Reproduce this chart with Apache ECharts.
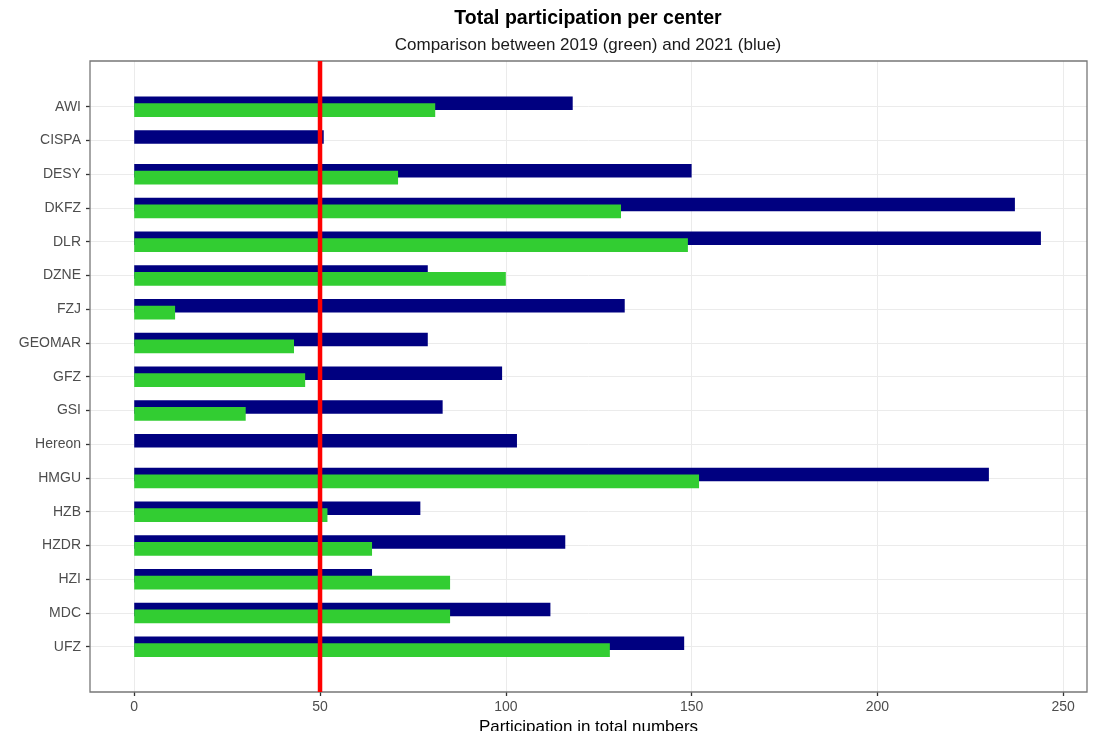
<!DOCTYPE html>
<html>
<head>
<meta charset="utf-8">
<script src="https://cdn.jsdelivr.net/npm/echarts@6/dist/echarts.min.js"></script>
<style>
html,body{margin:0;padding:0;background:#fff;}
#chart{width:1094px;height:731px;}
</style>
</head>
<body>
<div id="chart"></div>
<script>
const centers = ['AWI','CISPA','DESY','DKFZ','DLR','DZNE','FZJ','GEOMAR','GFZ','GSI','Hereon','HMGU','HZB','HZDR','HZI','MDC','UFZ'];
const values2021 = [118, 51, 150, 237, 244, 79, 132, 79, 99, 83, 103, 230, 77, 116, 64, 112, 148];
const values2019 = [81, 0, 71, 131, 149, 100, 11, 43, 46, 30, 0, 152, 52, 64, 85, 85, 128];
const xTicks = [0, 50, 100, 150, 200, 250];
const referenceValue = 50;
const xMin = -11.9, xMax = 256.4;

const chart = echarts.init(document.getElementById('chart'));
const FONT = 'Liberation Sans';
const option = {
  animation: false,
  backgroundColor: '#ffffff',
  textStyle: { fontFamily: FONT },
  title: [
    { text: 'Total participation per center', left: 583, top: 4, textAlign: 'center',
      textStyle: { fontFamily: FONT, fontSize: 19.5, fontWeight: 'bold', color: '#000' } },
    { text: 'Comparison between 2019 (green) and 2021 (blue)', left: 583, top: 32, textAlign: 'center',
      textStyle: { fontFamily: FONT, fontSize: 17, fontWeight: 'normal', color: '#1a1a1a' } }
  ],
  grid: [
    { left: 90, right: 7, top: 106.7, bottom: 84.3, containLabel: false, outerBoundsMode: 'none' },
    { left: 90, right: 7, top: 61, bottom: 39, show: true, borderColor: '#777', borderWidth: 1.3,
      backgroundColor: 'transparent', z: 3, containLabel: false, outerBoundsMode: 'none' }
  ],
  xAxis: [
    { gridIndex: 0, type: 'value', min: xMin, max: xMax, show: false },
    { gridIndex: 1, type: 'value', min: xMin, max: xMax, position: 'bottom',
      axisLine: { show: false, onZero: false },
      axisTick: { show: true, length: 4, customValues: xTicks, lineStyle: { color: '#333', width: 1.3 } },
      axisLabel: { customValues: xTicks, color: '#4d4d4d', fontSize: 14, margin: 8, fontFamily: FONT },
      splitLine: { show: true, lineStyle: { color: '#ebebeb', width: 1 } },
      name: 'Participation in total numbers', nameLocation: 'middle', nameGap: 26,
      nameTextStyle: { color: '#000', fontSize: 17, fontFamily: FONT } }
  ],
  yAxis: [
    { gridIndex: 0, type: 'category', data: centers, inverse: true, boundaryGap: false,
      axisLine: { show: false, onZero: false },
      axisTick: { show: true, length: 4, lineStyle: { color: '#333', width: 1.3 } },
      axisLabel: { color: '#4d4d4d', fontSize: 14, margin: 9, fontFamily: FONT },
      splitLine: { show: true, lineStyle: { color: '#ebebeb', width: 1 } } },
    { gridIndex: 1, type: 'value', min: 0, max: 1, show: false }
  ],
  series: [
    { name: '2021', type: 'bar', xAxisIndex: 0, yAxisIndex: 0, data: values2021,
      barWidth: 13.6, barGap: '-50%', clip: false, z: 2,
      itemStyle: { color: '#000080' } },
    { name: '2019', type: 'bar', xAxisIndex: 0, yAxisIndex: 0, data: values2019,
      barWidth: 13.6, barGap: '-50%', clip: false, z: 3,
      itemStyle: { color: '#32cd32' } },
    { name: 'reference', type: 'line', xAxisIndex: 1, yAxisIndex: 1,
      data: [[referenceValue, 0], [referenceValue, 1]], symbol: 'none', silent: true, z: 5,
      lineStyle: { color: '#ff0000', width: 4.5 } }
  ]
};
chart.setOption(option);
</script>
</body>
</html>
